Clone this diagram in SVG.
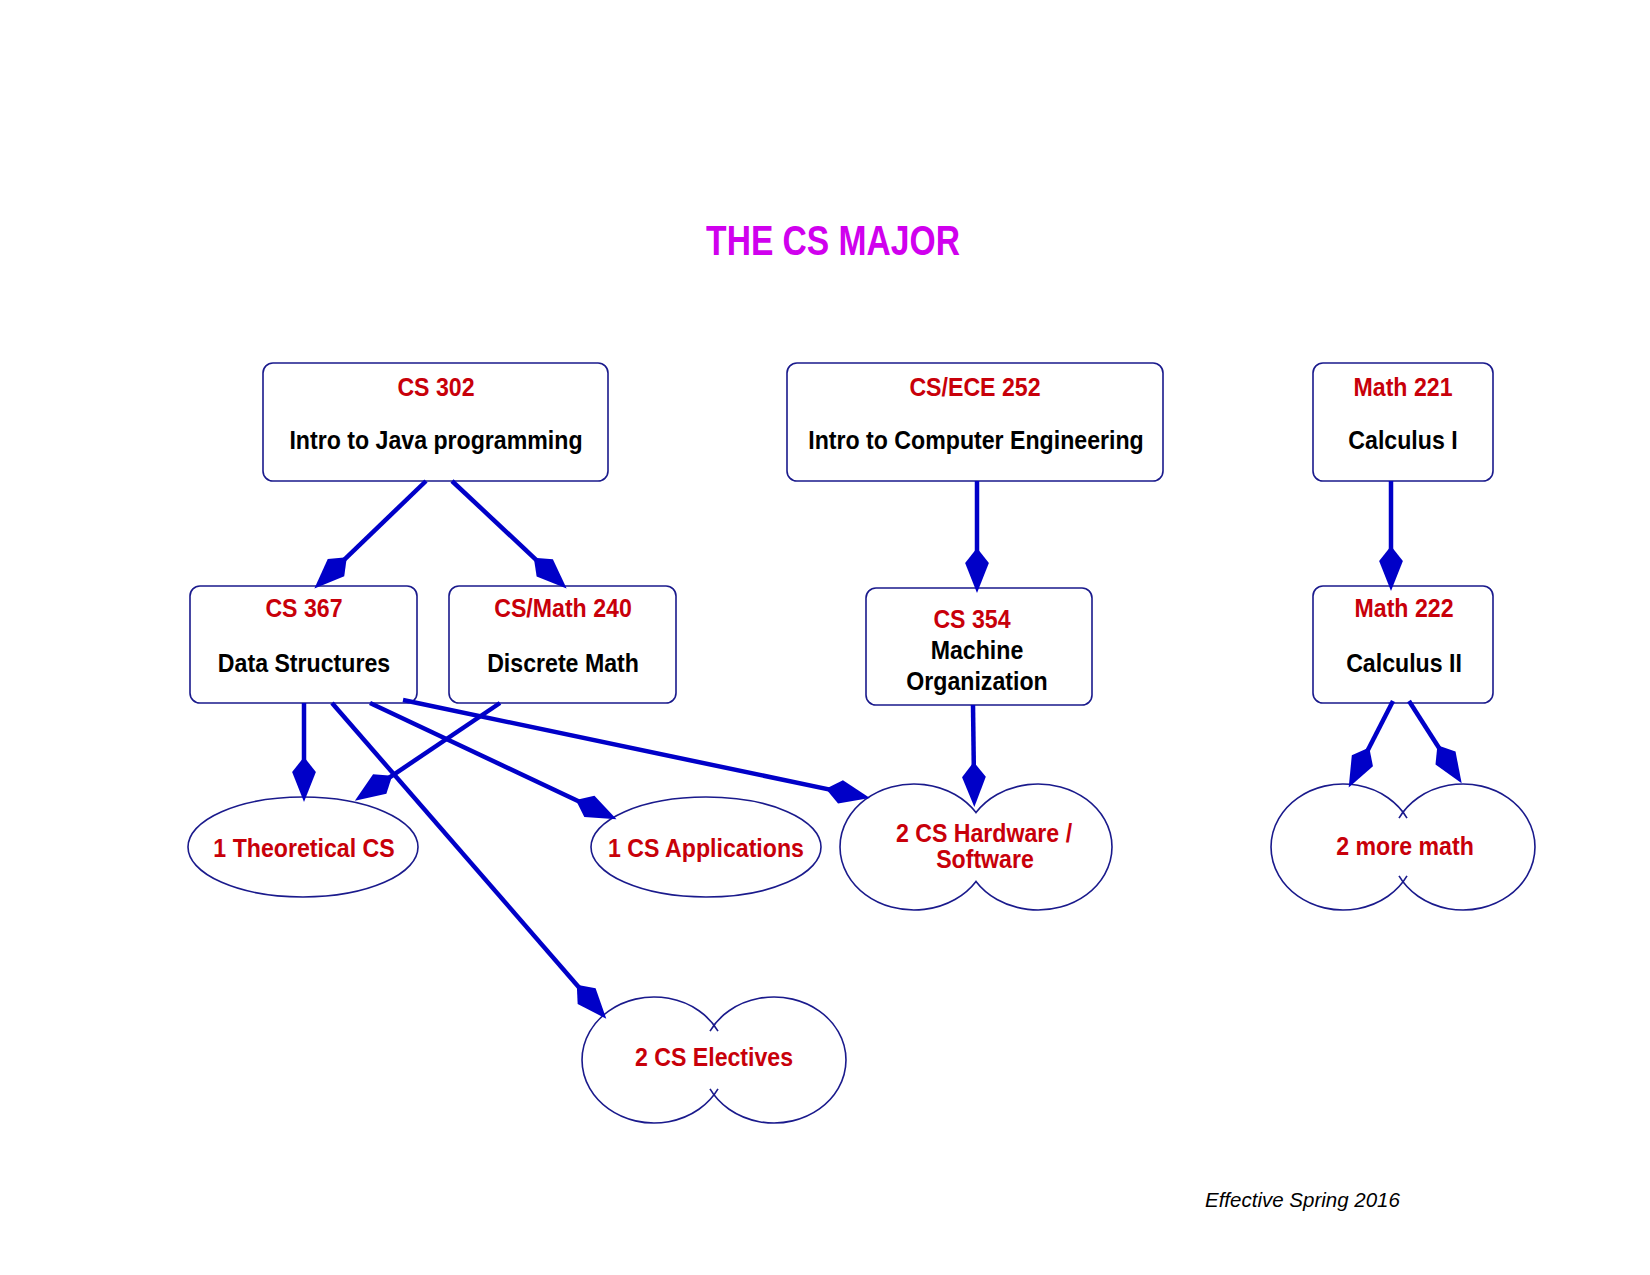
<svg xmlns="http://www.w3.org/2000/svg" width="1650" height="1275" viewBox="0 0 1650 1275">
<style>
.bg{fill:#ffffff}
.box{fill:#ffffff;stroke:#1a1a8c;stroke-width:1.6}
.shape{fill:#ffffff;stroke:#1a1a8c;stroke-width:1.6}
.lobe{fill:none;stroke:#1a1a8c;stroke-width:1.6}
.t{font-family:"Liberation Sans",Arial,sans-serif;font-weight:bold;font-size:26px;text-anchor:middle}
.red{fill:#c8000a}
.blk{fill:#000000}
.title{font-family:"Liberation Sans",Arial,sans-serif;font-weight:bold;font-size:42px;fill:#d000ee;text-anchor:middle}
.note{font-family:"Liberation Sans",Arial,sans-serif;font-style:italic;font-size:20.5px;fill:#000000}
.edge{stroke:#0000c8;stroke-width:4.5;fill:none;marker-end:url(#head)}
</style>
<defs>
<marker id="head" markerUnits="userSpaceOnUse" orient="auto" refX="0" refY="0" markerWidth="60" markerHeight="30" viewBox="-20 -12 44 24" overflow="visible">
<path d="M20,0 L-4,-9.5 L-16,0 L-4,9.5 Z" fill="#0000c8"/>
</marker>
</defs>
<rect class="bg" x="0" y="0" width="1650" height="1275"/>
<text class="title" transform="translate(833,255) scale(0.8,1)">THE CS MAJOR</text>

<g id="cs302">
<rect class="box" x="263" y="363" width="345" height="118" rx="10"/>
<text class="t red" transform="translate(436,396) scale(0.89,1)">CS 302</text>
<text class="t blk" transform="translate(436,449) scale(0.89,1)">Intro to Java programming</text>
</g>
<g id="cs252">
<rect class="box" x="787" y="363" width="376" height="118" rx="10"/>
<text class="t red" transform="translate(975,396) scale(0.89,1)">CS/ECE 252</text>
<text class="t blk" transform="translate(976,449) scale(0.89,1)">Intro to Computer Engineering</text>
</g>
<g id="math221">
<rect class="box" x="1313" y="363" width="180" height="118" rx="10"/>
<text class="t red" transform="translate(1403,396) scale(0.89,1)">Math 221</text>
<text class="t blk" transform="translate(1403,449) scale(0.89,1)">Calculus I</text>
</g>
<g id="cs367">
<rect class="box" x="190" y="586" width="227" height="117" rx="10"/>
<text class="t red" transform="translate(304,617) scale(0.89,1)">CS 367</text>
<text class="t blk" transform="translate(304,672) scale(0.89,1)">Data Structures</text>
</g>
<g id="cs240">
<rect class="box" x="449" y="586" width="227" height="117" rx="10"/>
<text class="t red" transform="translate(563,617) scale(0.89,1)">CS/Math 240</text>
<text class="t blk" transform="translate(563,672) scale(0.89,1)">Discrete Math</text>
</g>
<g id="cs354">
<rect class="box" x="866" y="588" width="226" height="117" rx="10"/>
<text class="t red" transform="translate(972,628) scale(0.89,1)">CS 354</text>
<text class="t blk" transform="translate(977,659) scale(0.89,1)">Machine</text>
<text class="t blk" transform="translate(977,690) scale(0.89,1)">Organization</text>
</g>
<g id="math222">
<rect class="box" x="1313" y="586" width="180" height="117" rx="10"/>
<text class="t red" transform="translate(1404,617) scale(0.89,1)">Math 222</text>
<text class="t blk" transform="translate(1404,672) scale(0.89,1)">Calculus II</text>
</g>

<g id="theory">
<ellipse class="shape" cx="303" cy="847" rx="115" ry="50"/>
<text class="t red" transform="translate(304,857) scale(0.89,1)">1 Theoretical CS</text>
</g>
<g id="apps">
<ellipse class="shape" cx="706" cy="847" rx="115" ry="50"/>
<text class="t red" transform="translate(706,857) scale(0.89,1)">1 CS Applications</text>
</g>
<g id="hw">
<path class="shape" d="M976,812.6 A74,63 0 1 0 976,881.4 A74,63 0 1 0 976,812.6 Z"/>
<text class="t red" transform="translate(984,842) scale(0.89,1)">2 CS Hardware /</text>
<text class="t red" transform="translate(985,868) scale(0.89,1)">Software</text>
</g>
<g id="math">
<path class="shape" d="M1403,812.2 A72,63 0 1 0 1403,881.8 A72,63 0 1 0 1403,812.2 Z" style="stroke:none"/>
<path class="lobe" d="M1407,818.1 A72,63 0 1 0 1407,875.9"/>
<path class="lobe" d="M1399,875.9 A72,63 0 1 0 1399,818.1"/>
<text class="t red" transform="translate(1405,855) scale(0.89,1)">2 more math</text>
</g>
<g id="electives">
<path class="shape" d="M714,1025.2 A72,63 0 1 0 714,1094.8 A72,63 0 1 0 714,1025.2 Z" style="stroke:none"/>
<path class="lobe" d="M718,1031.1 A72,63 0 1 0 718,1088.9"/>
<path class="lobe" d="M710,1088.9 A72,63 0 1 0 710,1031.1"/>
<text class="t red" transform="translate(714,1066) scale(0.89,1)">2 CS Electives</text>
</g>

<g id="connectors">
<line class="edge" x1="426" y1="481" x2="332.4" y2="571.1"/>
<line class="edge" x1="452" y1="481" x2="548.4" y2="571.3"/>
<line class="edge" x1="977" y1="481" x2="977" y2="568"/>
<line class="edge" x1="1391" y1="481" x2="1391" y2="566"/>
<line class="edge" x1="304" y1="703" x2="304" y2="777"/>
<line class="edge" x1="500" y1="703" x2="375.6" y2="786.8"/>
<line class="edge" x1="332" y1="703" x2="589.9" y2="999.9"/>
<line class="edge" x1="370" y1="703" x2="593.9" y2="808.5"/>
<line class="edge" x1="403" y1="700" x2="845.4" y2="792.9"/>
<line class="edge" x1="973" y1="705" x2="974" y2="782"/>
<line class="edge" x1="1393" y1="701" x2="1360.1" y2="765.2"/>
<line class="edge" x1="1409" y1="701" x2="1448.2" y2="762.2"/>
</g>

<text class="note" x="1205" y="1207">Effective Spring 2016</text>
</svg>
